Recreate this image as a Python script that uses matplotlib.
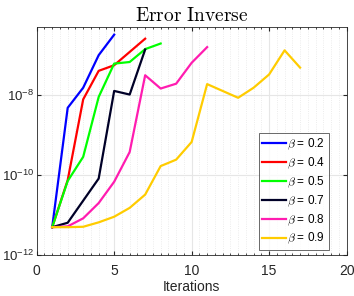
import numpy as np
import matplotlib
matplotlib.use('Agg')
import matplotlib.pyplot as plt
from matplotlib.ticker import MultipleLocator, FixedLocator, NullLocator

plt.rcParams['font.family'] = ['Liberation Sans', 'DejaVu Sans']
plt.rcParams['mathtext.fontset'] = 'cm'

# log10 of error
betas = ['0.2', '0.4', '0.5', '0.7', '0.8', '0.9']
colors = ['#0000ff', '#ff0000', '#00ff00', '#000027', '#ff1cb0', '#ffcc00']

it_02 = [1, 2, 3, 4, 5]
err_02 = [-11.3, -8.33, -7.83, -7.02, -6.51]

it_04 = [1, 2, 3, 4, 5, 7]
err_04 = [-11.3, -10.13, -8.12, -7.41, -7.27, -6.61]

it_05 = [1, 2, 3, 4, 5, 6, 7, 8]
err_05 = [-11.3, -10.15, -9.55, -8.06, -7.23, -7.19, -6.87, -6.73]

it_07 = [1, 2, 4, 5, 6, 7]
err_07 = [-11.3, -11.19, -10.09, -7.91, -8.0, -6.88]

it_08 = [1, 2, 3, 4, 5, 6, 7, 8, 9, 10, 11]
err_08 = [-11.3, -11.28, -11.08, -10.70, -10.17, -9.43, -7.52, -7.85, -7.73, -7.21, -6.82]

it_09 = [1, 2, 3, 4, 5, 6, 7, 8, 9, 10, 11, 13, 14, 15, 16, 17]
err_09 = [-11.3, -11.3, -11.29, -11.18, -11.04, -10.82, -10.49, -9.78, -9.62, -9.18,
          -7.74, -8.08, -7.83, -7.50, -6.90, -7.33]

iters = [it_02, it_04, it_05, it_07, it_08, it_09]
errs = [err_02, err_04, err_05, err_07, err_08, err_09]

fig = plt.figure(figsize=(3.54, 2.96), dpi=100)
ax = fig.add_axes([0.1037, 0.1375, 0.8753, 0.7725])

for b, c, x, e in zip(betas, colors, iters, errs):
    ax.semilogy(x, 10.0**np.array(e), color=c, lw=1.6, label=r'$\beta$ = ' + b)

ax.set_xlim(0, 20)
ax.set_ylim(1e-12, 10**-6.31)
ax.xaxis.set_major_locator(MultipleLocator(5))
ax.xaxis.set_minor_locator(MultipleLocator(0.5))
ax.yaxis.set_major_locator(FixedLocator([1e-12, 1e-10, 1e-8]))
ax.yaxis.set_minor_locator(NullLocator())

ax.grid(True, which='major', color='#e6e6e6', lw=0.8)
ax.grid(True, which='minor', axis='x', color='#e6e6e6', lw=0.6, ls=':')
ax.set_axisbelow(True)

ax.tick_params(which='both', direction='in', top=True, right=True,
               labelsize=10, colors='#262626', length=3)
ax.tick_params(which='minor', length=1.5)
ax.tick_params(axis='x', pad=6)
ax.tick_params(axis='y', pad=2, labelsize=9.5)
for s in ax.spines.values():
    s.set_color('#262626')
    s.set_linewidth(0.6)

ax.set_xlabel('Iterations', fontsize=10, labelpad=2, color='#262626')
ax.set_title(r'$\mathrm{Error\ Inverse}$', fontsize=14, pad=4)

leg = ax.legend(loc='lower right', bbox_to_anchor=(0.943, 0.023), fontsize=8.5,
                frameon=True, fancybox=False, edgecolor='#262626',
                handlelength=2.0, handletextpad=0.1, labelspacing=0.3,
                borderpad=0.3, borderaxespad=0)
leg.get_frame().set_linewidth(0.6)

fig.savefig('out.png', dpi=100)
